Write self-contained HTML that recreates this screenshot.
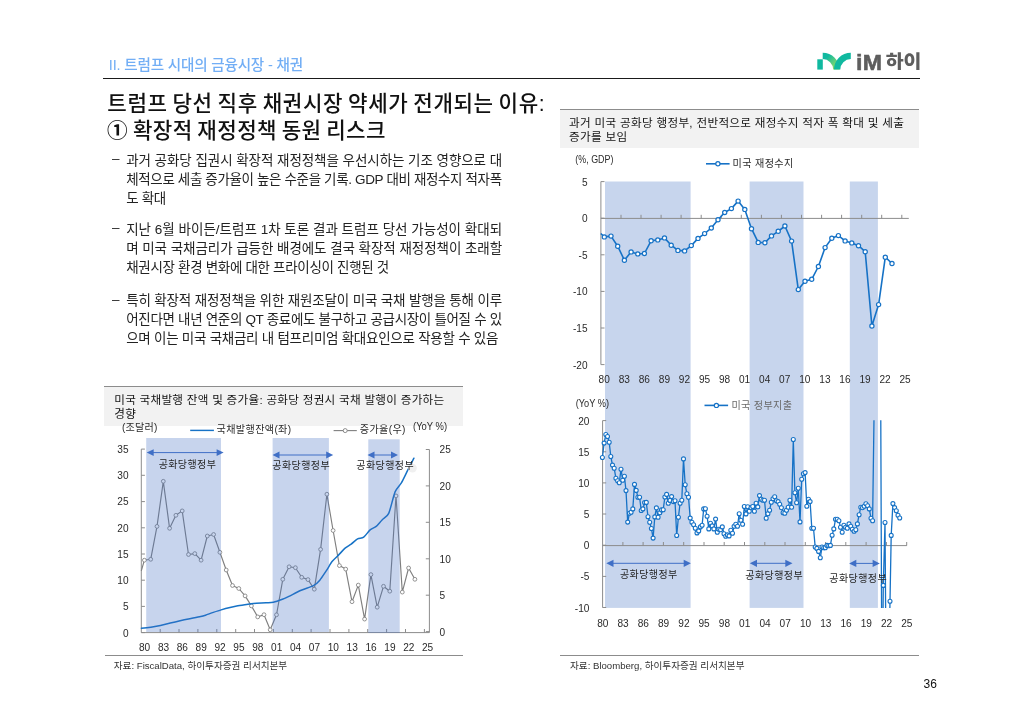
<!DOCTYPE html>
<html lang="ko">
<head>
<meta charset="utf-8">
<title>트럼프 당선 직후 채권시장 약세가 전개되는 이유</title>
<style>
html,body{margin:0;padding:0;background:#fff;}
body{width:1024px;height:723px;position:relative;overflow:hidden;font-family:"Liberation Sans","Noto Sans CJK KR",sans-serif;color:#1a1a1a;}
.abs{position:absolute;white-space:nowrap;}
.crumb{left:108.8px;top:55.2px;font-size:14.6px;line-height:20px;color:#72aef5;font-weight:500;letter-spacing:-0.206px;}
.rule{left:103.4px;top:78px;width:817px;height:1.4px;background:#1a1a1a;}
.title{left:107.3px;font-size:21.2px;word-spacing:-1.6px;line-height:26.4px;font-weight:500;color:#111;}
.t1{top:91.3px;letter-spacing:0.613px;}
.t2{top:117.5px;letter-spacing:0.416px;}
.t2 .c1{position:absolute;left:-0.2px;top:0.2px;font-size:20.6px;letter-spacing:0;font-weight:700;}
.t2 .rest{position:absolute;left:25.6px;top:0;}
.para{position:absolute;left:126.2px;width:375.2px;font-size:13.5px;line-height:19.1px;color:#222;}
.para .dash{position:absolute;left:-14.2px;top:-1.5px;}
.ln{white-space:nowrap;}
.hdr{background:#f2f2f2;border-top:1px solid #8c8c8c;font-size:11.6px;line-height:14.2px;color:#141414;box-sizing:border-box;white-space:nowrap;}
.h1{left:104.4px;top:386px;width:358.8px;height:40px;padding:5.5px 0 0 9.8px;line-height:14.8px;}
.h2{left:560.4px;top:108.6px;width:358.4px;height:39.8px;padding:6.2px 0 0 8.6px;line-height:13.8px;}
.foot{height:1px;background:#8c8c8c;}
.src{font-size:9.6px;line-height:14px;color:#333;}
.pg{left:923.6px;top:676.6px;font-size:12px;line-height:14px;color:#111;}
</style>
</head>
<body>
<div class="abs crumb">II. 트럼프 시대의 금융시장 - 채권</div>
<div class="abs rule"></div>
<div class="abs title t1">트럼프 당선 직후 채권시장 약세가 전개되는 이유:</div>
<div class="abs title t2"><span class="c1">①</span><span class="rest">확장적 재정정책 동원 리스크</span></div>
<div class="para" style="top:150.7px"><span class="dash">–</span>
<div class="ln" style="letter-spacing:-0.053px">과거 공화당 집권시 확장적 재정정책을 우선시하는 기조 영향으로 대</div>
<div class="ln" style="letter-spacing:-0.356px">체적으로 세출 증가율이 높은 수준을 기록. GDP 대비 재정수지 적자폭</div>
<div class="ln" style="letter-spacing:-0.339px">도 확대</div>
</div>
<div class="para" style="top:219.9px"><span class="dash">–</span>
<div class="ln" style="letter-spacing:0.012px">지난 6월 바이든/트럼프 1차 토론 결과 트럼프 당선 가능성이 확대되</div>
<div class="ln" style="letter-spacing:-0.053px">며 미국 국채금리가 급등한 배경에도 결국 확장적 재정정책이 초래할</div>
<div class="ln" style="letter-spacing:-0.316px">채권시장 환경 변화에 대한 프라이싱이 진행된 것</div>
</div>
<div class="para" style="top:291.0px"><span class="dash">–</span>
<div class="ln" style="letter-spacing:-0.156px">특히 확장적 재정정책을 위한 재원조달이 미국 국채 발행을 통해 이루</div>
<div class="ln" style="letter-spacing:-0.316px">어진다면 내년 연준의 QT 종료에도 불구하고 공급시장이 틀어질 수 있</div>
<div class="ln" style="letter-spacing:-0.259px">으며 이는 미국 국채금리 내 텀프리미엄 확대요인으로 작용할 수 있음</div>
</div>
<div class="abs hdr h1" style="letter-spacing:0.272px">미국 국채발행 잔액 및 증가율: 공화당 정권시 국채 발행이 증가하는<br>경향</div>
<div class="abs hdr h2" style="letter-spacing:0.312px">과거 미국 공화당 행정부, 전반적으로 재정수지 적자 폭 확대 및 세출<br>증가를 보임</div>
<svg width="1024" height="723" viewBox="0 0 1024 723" style="position:absolute;left:0;top:0" font-family="'Liberation Sans', 'Noto Sans CJK KR', sans-serif" font-size="10.1" fill="#2b2b2b">
<defs><clipPath id="cp3"><rect x="602" y="420.3" width="310" height="187.6"/></clipPath><linearGradient id="lg" x1="0" y1="0" x2="1" y2="1"><stop offset="0.25" stop-color="#10b9a0"/><stop offset="0.85" stop-color="#93dd62"/></linearGradient></defs>
<g id="chart1">
<g stroke="#8c8c8c" stroke-width="1" fill="none">
<path d="M141.3 449.1V632.6H429.4V449.5"/>
<path d="M141.3 632.6h3.6"/>
<path d="M141.3 606.4h3.6"/>
<path d="M141.3 580.2h3.6"/>
<path d="M141.3 554.0h3.6"/>
<path d="M141.3 527.8h3.6"/>
<path d="M141.3 501.6h3.6"/>
<path d="M141.3 475.3h3.6"/>
<path d="M141.3 449.1h3.6"/>
<path d="M429.4 631.6h-3.6"/>
<path d="M429.4 595.2h-3.6"/>
<path d="M429.4 558.8h-3.6"/>
<path d="M429.4 522.3h-3.6"/>
<path d="M429.4 485.9h-3.6"/>
<path d="M429.4 449.5h-3.6"/>
<path d="M160.2 632.6v-3.6"/>
<path d="M179.0 632.6v-3.6"/>
<path d="M197.9 632.6v-3.6"/>
<path d="M216.8 632.6v-3.6"/>
<path d="M235.7 632.6v-3.6"/>
<path d="M254.5 632.6v-3.6"/>
<path d="M273.4 632.6v-3.6"/>
<path d="M292.3 632.6v-3.6"/>
<path d="M311.1 632.6v-3.6"/>
<path d="M330.0 632.6v-3.6"/>
<path d="M348.9 632.6v-3.6"/>
<path d="M367.7 632.6v-3.6"/>
<path d="M386.6 632.6v-3.6"/>
<path d="M405.5 632.6v-3.6"/>
<path d="M424.4 632.6v-3.6"/>
</g>
<polyline points="141.3,570.8 144.4,560.2 150.7,559.3 157.0,526.4 163.3,481.3 169.6,528.3 175.9,515.3 182.2,510.9 188.5,554.5 194.8,553.6 201.1,560.2 207.3,536.0 213.6,534.5 219.9,552.3 226.2,570.0 232.5,585.5 238.8,588.5 245.1,595.9 251.4,605.9 257.7,616.9 264.0,614.7 270.2,629.8 276.5,614.8 282.8,579.3 289.1,566.8 295.4,567.7 301.7,577.3 308.0,579.6 314.3,589.2 320.6,549.4 326.9,494.2 333.1,530.5 339.4,565.6 345.7,569.1 352.0,601.7 358.3,585.1 364.6,619.1 370.9,574.6 377.2,607.2 383.5,586.3 389.8,591.2 396.0,495.9 402.3,592.1 408.6,568.0 414.9,579.3" fill="none" stroke="#7f7f7f" stroke-width="1.15" stroke-linejoin="round"/>
<g fill="#fff" stroke="#7f7f7f" stroke-width="0.85"><circle cx="144.4" cy="560.2" r="1.9"/><circle cx="150.7" cy="559.3" r="1.9"/><circle cx="157.0" cy="526.4" r="1.9"/><circle cx="163.3" cy="481.3" r="1.9"/><circle cx="169.6" cy="528.3" r="1.9"/><circle cx="175.9" cy="515.3" r="1.9"/><circle cx="182.2" cy="510.9" r="1.9"/><circle cx="188.5" cy="554.5" r="1.9"/><circle cx="194.8" cy="553.6" r="1.9"/><circle cx="201.1" cy="560.2" r="1.9"/><circle cx="207.3" cy="536.0" r="1.9"/><circle cx="213.6" cy="534.5" r="1.9"/><circle cx="219.9" cy="552.3" r="1.9"/><circle cx="226.2" cy="570.0" r="1.9"/><circle cx="232.5" cy="585.5" r="1.9"/><circle cx="238.8" cy="588.5" r="1.9"/><circle cx="245.1" cy="595.9" r="1.9"/><circle cx="251.4" cy="605.9" r="1.9"/><circle cx="257.7" cy="616.9" r="1.9"/><circle cx="264.0" cy="614.7" r="1.9"/><circle cx="270.2" cy="629.8" r="1.9"/><circle cx="276.5" cy="614.8" r="1.9"/><circle cx="282.8" cy="579.3" r="1.9"/><circle cx="289.1" cy="566.8" r="1.9"/><circle cx="295.4" cy="567.7" r="1.9"/><circle cx="301.7" cy="577.3" r="1.9"/><circle cx="308.0" cy="579.6" r="1.9"/><circle cx="314.3" cy="589.2" r="1.9"/><circle cx="320.6" cy="549.4" r="1.9"/><circle cx="326.9" cy="494.2" r="1.9"/><circle cx="333.1" cy="530.5" r="1.9"/><circle cx="339.4" cy="565.6" r="1.9"/><circle cx="345.7" cy="569.1" r="1.9"/><circle cx="352.0" cy="601.7" r="1.9"/><circle cx="358.3" cy="585.1" r="1.9"/><circle cx="364.6" cy="619.1" r="1.9"/><circle cx="370.9" cy="574.6" r="1.9"/><circle cx="377.2" cy="607.2" r="1.9"/><circle cx="383.5" cy="586.3" r="1.9"/><circle cx="389.8" cy="591.2" r="1.9"/><circle cx="396.0" cy="495.9" r="1.9"/><circle cx="402.3" cy="592.1" r="1.9"/><circle cx="408.6" cy="568.0" r="1.9"/><circle cx="414.9" cy="579.3" r="1.9"/></g>
<path d="M141.4 628.3C142.7 628.2 148.3 627.7 150.8 627.3C153.3 626.9 157.9 626.1 160.5 625.5C163.1 624.9 167.7 623.7 170.3 623.1C172.9 622.5 177.5 621.4 180.1 620.8C182.7 620.2 187.2 619.3 189.8 618.8C192.4 618.3 197.5 617.3 199.6 616.8C201.7 616.3 203.7 615.8 205.5 615.2C207.3 614.6 211.2 613.1 213.3 612.4C215.4 611.7 219.0 610.5 221.1 609.9C223.2 609.3 226.8 608.3 228.9 607.8C231.0 607.3 234.4 606.5 236.7 606.0C239.0 605.5 243.9 604.8 246.5 604.4C249.1 604.0 253.7 603.5 256.3 603.3C258.9 603.1 263.7 602.8 266.0 602.7C268.3 602.6 271.2 602.8 273.4 602.3C275.6 601.8 280.3 600.1 282.4 599.3C284.5 598.5 286.3 597.6 288.8 596.4C291.3 595.2 297.9 591.7 301.2 590.3C304.5 588.9 310.9 587.0 313.4 585.7C315.9 584.4 318.1 582.2 319.8 580.2C321.5 578.2 324.5 573.4 326.2 570.9C327.9 568.4 330.6 563.4 332.3 561.3C334.0 559.2 337.0 556.6 338.7 554.9C340.4 553.2 343.4 549.6 345.1 548.2C346.8 546.8 349.5 545.3 351.2 544.1C352.9 542.9 355.9 539.8 357.6 538.9C359.3 538.0 362.0 538.4 363.7 537.2C365.4 536.0 368.4 531.3 370.1 529.9C371.8 528.5 374.6 527.8 376.2 526.4C377.8 525.0 380.6 521.4 382.3 519.7C384.0 518.0 387.0 517.1 388.7 513.4C390.4 509.7 393.4 495.9 395.1 491.9C396.8 487.9 399.5 486.0 401.2 483.2C402.9 480.4 405.8 474.0 407.5 470.7C409.2 467.4 413.0 459.9 413.9 458.2" fill="none" stroke="#1672c6" stroke-width="1.5" stroke-linejoin="round" stroke-linecap="round"/>
<rect x="146.2" y="438.0" width="74.8" height="194.0" fill="#4472c4" fill-opacity="0.3"/>
<rect x="272.6" y="438.0" width="56.3" height="194.0" fill="#4472c4" fill-opacity="0.3"/>
<rect x="368.3" y="439.3" width="31.4" height="193.7" fill="#4472c4" fill-opacity="0.3"/>
<line x1="152.7" y1="452.6" x2="217.6" y2="452.6" stroke="#3f6fc6" stroke-width="1"/><polygon points="146.7,452.6 153.7,449.2 153.7,456.0" fill="#3f6fc6"/><polygon points="223.6,452.6 216.6,449.2 216.6,456.0" fill="#3f6fc6"/>
<line x1="278.5" y1="455.0" x2="327.2" y2="455.0" stroke="#3f6fc6" stroke-width="1"/><polygon points="272.5,455.0 279.5,451.6 279.5,458.4" fill="#3f6fc6"/><polygon points="333.2,455.0 326.2,451.6 326.2,458.4" fill="#3f6fc6"/>
<line x1="373.5" y1="455.0" x2="392.0" y2="455.0" stroke="#3f6fc6" stroke-width="1"/><polygon points="367.5,455.0 374.5,451.6 374.5,458.4" fill="#3f6fc6"/><polygon points="398.0,455.0 391.0,451.6 391.0,458.4" fill="#3f6fc6"/>
<circle cx="412.4" cy="468.1" r="4.4" fill="#f0f0f0"/>
<g font-size="10" text-anchor="middle" fill="#262626" letter-spacing="0.42">
<text x="187.5" y="467.8">공화당행정부</text>
<text x="301.2" y="468.6">공화당행정부</text>
<text x="385.2" y="468.6">공화당행정부</text>
</g>
<g text-anchor="end">
<text x="128.6" y="636.5">0</text>
<text x="128.6" y="610.3">5</text>
<text x="128.6" y="584.1">10</text>
<text x="128.6" y="557.9">15</text>
<text x="128.6" y="531.7">20</text>
<text x="128.6" y="505.4">25</text>
<text x="128.6" y="479.2">30</text>
<text x="128.6" y="453.0">35</text>
</g>
<g text-anchor="start">
<text x="439.6" y="635.5">0</text>
<text x="439.6" y="599.1">5</text>
<text x="439.6" y="562.7">10</text>
<text x="439.6" y="526.2">15</text>
<text x="439.6" y="489.8">20</text>
<text x="439.6" y="453.4">25</text>
</g>
<g text-anchor="middle">
<text x="144.6" y="650.6">80</text>
<text x="163.5" y="650.6">83</text>
<text x="182.3" y="650.6">86</text>
<text x="201.2" y="650.6">89</text>
<text x="220.1" y="650.6">92</text>
<text x="238.9" y="650.6">95</text>
<text x="257.8" y="650.6">98</text>
<text x="276.7" y="650.6">01</text>
<text x="295.6" y="650.6">04</text>
<text x="314.4" y="650.6">07</text>
<text x="333.3" y="650.6">10</text>
<text x="352.2" y="650.6">13</text>
<text x="371.0" y="650.6">16</text>
<text x="389.9" y="650.6">19</text>
<text x="408.8" y="650.6">22</text>
<text x="427.6" y="650.6">25</text>
</g>
<text x="122" y="430.8" letter-spacing="0.2">(조달러)</text>
<line x1="190.2" y1="430.4" x2="213.9" y2="430.4" stroke="#1672c6" stroke-width="1.45"/>
<text x="216.6" y="433.1" letter-spacing="0.35">국채발행잔액(좌)</text>
<line x1="333.6" y1="430.6" x2="356.8" y2="430.6" stroke="#7f7f7f" stroke-width="1.1"/>
<circle cx="345.2" cy="430.6" r="2" fill="#fff" stroke="#7f7f7f" stroke-width="0.9"/>
<text x="359.8" y="433.1" letter-spacing="0.35">증가율(우)</text>
<text x="413" y="430.2" font-size="10.3" textLength="34.1" lengthAdjust="spacingAndGlyphs">(YoY %)</text>
</g>
<g id="chart23">
<rect x="605.0" y="181.5" width="85.6" height="426.4" fill="#c7d5ed"/>
<rect x="749.6" y="181.5" width="53.9" height="426.4" fill="#c7d5ed"/>
<rect x="849.8" y="181.5" width="28.1" height="426.4" fill="#c7d5ed"/>
<g stroke="#8c8c8c" stroke-width="1" fill="none">
<path d="M600.9 181.6V364.6"/>
<path d="M600.9 218.4H908.8"/>
<path d="M600.9 181.6h3.6"/>
<path d="M600.9 218.2h3.6"/>
<path d="M600.9 254.8h3.6"/>
<path d="M600.9 291.4h3.6"/>
<path d="M600.9 328.0h3.6"/>
<path d="M600.9 364.6h3.6"/>
<path d="M621.0 218.4v-3.6"/>
<path d="M641.0 218.4v-3.6"/>
<path d="M661.1 218.4v-3.6"/>
<path d="M681.1 218.4v-3.6"/>
<path d="M701.2 218.4v-3.6"/>
<path d="M721.3 218.4v-3.6"/>
<path d="M741.3 218.4v-3.6"/>
<path d="M761.4 218.4v-3.6"/>
<path d="M781.4 218.4v-3.6"/>
<path d="M801.5 218.4v-3.6"/>
<path d="M821.6 218.4v-3.6"/>
<path d="M841.6 218.4v-3.6"/>
<path d="M861.7 218.4v-3.6"/>
<path d="M881.7 218.4v-3.6"/>
<path d="M901.8 218.4v-3.6"/>
<path d="M602.6 420.6V607.6"/>
<path d="M602.6 545.6H906.9"/>
<path d="M602.6 420.6h3.6"/>
<path d="M602.6 451.8h3.6"/>
<path d="M602.6 482.9h3.6"/>
<path d="M602.6 514.0h3.6"/>
<path d="M602.6 545.2h3.6"/>
<path d="M602.6 576.4h3.6"/>
<path d="M602.6 607.5h3.6"/>
<path d="M622.9 545.6v-3.6"/>
<path d="M643.1 545.6v-3.6"/>
<path d="M663.4 545.6v-3.6"/>
<path d="M683.7 545.6v-3.6"/>
<path d="M704.0 545.6v-3.6"/>
<path d="M724.2 545.6v-3.6"/>
<path d="M744.5 545.6v-3.6"/>
<path d="M764.8 545.6v-3.6"/>
<path d="M785.0 545.6v-3.6"/>
<path d="M805.3 545.6v-3.6"/>
<path d="M825.6 545.6v-3.6"/>
<path d="M845.8 545.6v-3.6"/>
<path d="M866.1 545.6v-3.6"/>
<path d="M886.4 545.6v-3.6"/>
<path d="M906.7 545.6v-3.6"/>
</g>
<polyline points="600.8,233.5 604.3,236.9 611.0,236.1 617.7,246.2 624.4,260.2 631.1,251.9 637.8,253.9 644.4,253.5 651.1,240.8 657.8,239.9 664.5,237.9 671.2,245.2 677.9,250.4 684.6,250.9 691.3,245.6 698.0,238.4 704.6,233.6 711.3,228.0 718.0,219.8 724.7,212.5 731.4,208.6 738.1,201.1 744.8,209.4 751.5,228.7 758.2,242.4 764.9,242.8 771.5,235.9 778.2,231.3 784.9,226.0 791.6,241.1 798.3,289.6 805.0,281.3 811.7,279.3 818.4,266.5 825.1,247.6 831.8,238.3 838.4,235.6 845.1,240.9 851.8,242.9 858.5,245.7 865.2,251.7 871.9,326.0 878.6,304.6 885.3,257.2 892.0,263.5" fill="none" stroke="#1672c6" stroke-width="1.6" stroke-linejoin="round"/>
<g fill="#fff" stroke="#1672c6" stroke-width="1.2"><circle cx="604.3" cy="236.9" r="2.1"/><circle cx="611.0" cy="236.1" r="2.1"/><circle cx="617.7" cy="246.2" r="2.1"/><circle cx="624.4" cy="260.2" r="2.1"/><circle cx="631.1" cy="251.9" r="2.1"/><circle cx="637.8" cy="253.9" r="2.1"/><circle cx="644.4" cy="253.5" r="2.1"/><circle cx="651.1" cy="240.8" r="2.1"/><circle cx="657.8" cy="239.9" r="2.1"/><circle cx="664.5" cy="237.9" r="2.1"/><circle cx="671.2" cy="245.2" r="2.1"/><circle cx="677.9" cy="250.4" r="2.1"/><circle cx="684.6" cy="250.9" r="2.1"/><circle cx="691.3" cy="245.6" r="2.1"/><circle cx="698.0" cy="238.4" r="2.1"/><circle cx="704.6" cy="233.6" r="2.1"/><circle cx="711.3" cy="228.0" r="2.1"/><circle cx="718.0" cy="219.8" r="2.1"/><circle cx="724.7" cy="212.5" r="2.1"/><circle cx="731.4" cy="208.6" r="2.1"/><circle cx="738.1" cy="201.1" r="2.1"/><circle cx="744.8" cy="209.4" r="2.1"/><circle cx="751.5" cy="228.7" r="2.1"/><circle cx="758.2" cy="242.4" r="2.1"/><circle cx="764.9" cy="242.8" r="2.1"/><circle cx="771.5" cy="235.9" r="2.1"/><circle cx="778.2" cy="231.3" r="2.1"/><circle cx="784.9" cy="226.0" r="2.1"/><circle cx="791.6" cy="241.1" r="2.1"/><circle cx="798.3" cy="289.6" r="2.1"/><circle cx="805.0" cy="281.3" r="2.1"/><circle cx="811.7" cy="279.3" r="2.1"/><circle cx="818.4" cy="266.5" r="2.1"/><circle cx="825.1" cy="247.6" r="2.1"/><circle cx="831.8" cy="238.3" r="2.1"/><circle cx="838.4" cy="235.6" r="2.1"/><circle cx="845.1" cy="240.9" r="2.1"/><circle cx="851.8" cy="242.9" r="2.1"/><circle cx="858.5" cy="245.7" r="2.1"/><circle cx="865.2" cy="251.7" r="2.1"/><circle cx="871.9" cy="326.0" r="2.1"/><circle cx="878.6" cy="304.6" r="2.1"/><circle cx="885.3" cy="257.2" r="2.1"/><circle cx="892.0" cy="263.5" r="2.1"/></g>
<g clip-path="url(#cp3)">
<polyline points="602.4,457.5 604.1,443.1 605.8,434.5 607.5,436.5 609.2,442.3 610.8,456.5 612.5,465.1 614.2,468.3 615.9,478.2 617.6,480.8 619.3,482.8 621.0,469.2 622.7,480.2 624.4,476.2 626.0,490.6 627.7,522.1 629.4,513.3 631.1,512.3 632.8,508.9 634.5,484.4 636.2,490.4 637.9,497.2 639.6,497.2 641.2,510.5 642.9,508.9 644.6,502.6 646.3,502.4 648.0,516.7 649.7,522.3 651.4,528.5 653.1,538.1 654.8,516.9 656.4,507.9 658.1,517.3 659.8,512.7 661.5,509.9 663.2,509.7 664.9,497.0 666.6,494.4 668.3,503.2 670.0,500.4 671.6,496.6 673.3,501.6 675.0,500.8 676.7,535.5 678.4,517.3 680.1,503.2 681.8,500.2 683.5,458.9 685.2,484.8 686.9,493.8 688.5,497.2 690.2,518.1 691.9,522.3 693.6,524.7 695.3,528.3 697.0,532.9 698.7,530.9 700.4,526.9 702.1,525.3 703.7,508.9 705.4,508.7 707.1,516.3 708.8,528.9 710.5,523.3 712.2,525.9 713.9,528.9 715.6,519.1 717.3,532.3 718.9,529.3 720.6,529.7 722.3,526.9 724.0,533.7 725.7,536.3 727.4,534.9 729.1,535.9 730.8,530.3 732.5,533.3 734.1,526.3 735.8,524.3 737.5,526.3 739.2,513.7 740.9,520.3 742.6,524.3 744.3,506.5 746.0,513.9 747.7,506.7 749.3,511.3 751.0,507.7 752.7,506.5 754.4,511.3 756.1,503.2 757.8,506.9 759.5,495.6 761.2,499.2 762.9,500.2 764.5,500.2 766.2,518.3 767.9,513.7 769.6,510.3 771.3,502.2 773.0,498.8 774.7,496.8 776.4,500.8 778.1,501.6 779.7,504.2 781.4,507.7 783.1,512.7 784.8,513.3 786.5,510.3 788.2,507.3 789.9,500.2 791.6,507.3 793.3,439.5 794.9,492.8 796.6,502.8 798.3,488.2 800.0,521.9 801.7,479.2 803.4,473.8 805.1,472.6 806.8,506.3 808.5,499.2 810.1,501.6 811.8,528.3 813.5,528.3 815.2,547.0 816.9,548.4 818.6,551.4 820.3,557.8 822.0,547.0 823.7,547.8 825.3,547.8 827.0,545.4 828.7,545.8 830.4,545.4 832.1,535.3 833.8,528.9 835.5,519.3 837.2,519.3 838.9,520.7 840.5,527.3 842.2,532.3 843.9,525.3 845.6,527.3 847.3,528.3 849.0,523.9 850.7,526.3 852.4,529.3 854.1,531.3 855.8,529.7 857.4,523.9 859.1,514.7 860.8,507.3 862.5,507.7 864.2,506.3 865.9,503.8 867.6,505.7 869.3,508.9 871.0,518.3 872.6,520.7 875.2,330.0 876.9,200.0 878.6,250.0 880.3,300.0 882.0,720.0 883.3,585.4 885.0,522.5 886.7,760.0 888.3,700.0 890.0,601.2 891.2,535.4 892.9,503.6 894.6,507.6 896.3,510.8 898.0,515.3 899.7,518.0" fill="none" stroke="#1672c6" stroke-width="1.3" stroke-linejoin="round"/>
</g>
<g fill="#fff" stroke="#1672c6" stroke-width="1.1"><circle cx="602.4" cy="457.5" r="2.0"/><circle cx="604.1" cy="443.1" r="2.0"/><circle cx="605.8" cy="434.5" r="2.0"/><circle cx="607.5" cy="436.5" r="2.0"/><circle cx="609.2" cy="442.3" r="2.0"/><circle cx="610.8" cy="456.5" r="2.0"/><circle cx="612.5" cy="465.1" r="2.0"/><circle cx="614.2" cy="468.3" r="2.0"/><circle cx="615.9" cy="478.2" r="2.0"/><circle cx="617.6" cy="480.8" r="2.0"/><circle cx="619.3" cy="482.8" r="2.0"/><circle cx="621.0" cy="469.2" r="2.0"/><circle cx="622.7" cy="480.2" r="2.0"/><circle cx="624.4" cy="476.2" r="2.0"/><circle cx="626.0" cy="490.6" r="2.0"/><circle cx="627.7" cy="522.1" r="2.0"/><circle cx="629.4" cy="513.3" r="2.0"/><circle cx="631.1" cy="512.3" r="2.0"/><circle cx="632.8" cy="508.9" r="2.0"/><circle cx="634.5" cy="484.4" r="2.0"/><circle cx="636.2" cy="490.4" r="2.0"/><circle cx="637.9" cy="497.2" r="2.0"/><circle cx="639.6" cy="497.2" r="2.0"/><circle cx="641.2" cy="510.5" r="2.0"/><circle cx="642.9" cy="508.9" r="2.0"/><circle cx="644.6" cy="502.6" r="2.0"/><circle cx="646.3" cy="502.4" r="2.0"/><circle cx="648.0" cy="516.7" r="2.0"/><circle cx="649.7" cy="522.3" r="2.0"/><circle cx="651.4" cy="528.5" r="2.0"/><circle cx="653.1" cy="538.1" r="2.0"/><circle cx="654.8" cy="516.9" r="2.0"/><circle cx="656.4" cy="507.9" r="2.0"/><circle cx="658.1" cy="517.3" r="2.0"/><circle cx="659.8" cy="512.7" r="2.0"/><circle cx="661.5" cy="509.9" r="2.0"/><circle cx="663.2" cy="509.7" r="2.0"/><circle cx="664.9" cy="497.0" r="2.0"/><circle cx="666.6" cy="494.4" r="2.0"/><circle cx="668.3" cy="503.2" r="2.0"/><circle cx="670.0" cy="500.4" r="2.0"/><circle cx="671.6" cy="496.6" r="2.0"/><circle cx="673.3" cy="501.6" r="2.0"/><circle cx="675.0" cy="500.8" r="2.0"/><circle cx="676.7" cy="535.5" r="2.0"/><circle cx="678.4" cy="517.3" r="2.0"/><circle cx="680.1" cy="503.2" r="2.0"/><circle cx="681.8" cy="500.2" r="2.0"/><circle cx="683.5" cy="458.9" r="2.0"/><circle cx="685.2" cy="484.8" r="2.0"/><circle cx="686.9" cy="493.8" r="2.0"/><circle cx="688.5" cy="497.2" r="2.0"/><circle cx="690.2" cy="518.1" r="2.0"/><circle cx="691.9" cy="522.3" r="2.0"/><circle cx="693.6" cy="524.7" r="2.0"/><circle cx="695.3" cy="528.3" r="2.0"/><circle cx="697.0" cy="532.9" r="2.0"/><circle cx="698.7" cy="530.9" r="2.0"/><circle cx="700.4" cy="526.9" r="2.0"/><circle cx="702.1" cy="525.3" r="2.0"/><circle cx="703.7" cy="508.9" r="2.0"/><circle cx="705.4" cy="508.7" r="2.0"/><circle cx="707.1" cy="516.3" r="2.0"/><circle cx="708.8" cy="528.9" r="2.0"/><circle cx="710.5" cy="523.3" r="2.0"/><circle cx="712.2" cy="525.9" r="2.0"/><circle cx="713.9" cy="528.9" r="2.0"/><circle cx="715.6" cy="519.1" r="2.0"/><circle cx="717.3" cy="532.3" r="2.0"/><circle cx="718.9" cy="529.3" r="2.0"/><circle cx="720.6" cy="529.7" r="2.0"/><circle cx="722.3" cy="526.9" r="2.0"/><circle cx="724.0" cy="533.7" r="2.0"/><circle cx="725.7" cy="536.3" r="2.0"/><circle cx="727.4" cy="534.9" r="2.0"/><circle cx="729.1" cy="535.9" r="2.0"/><circle cx="730.8" cy="530.3" r="2.0"/><circle cx="732.5" cy="533.3" r="2.0"/><circle cx="734.1" cy="526.3" r="2.0"/><circle cx="735.8" cy="524.3" r="2.0"/><circle cx="737.5" cy="526.3" r="2.0"/><circle cx="739.2" cy="513.7" r="2.0"/><circle cx="740.9" cy="520.3" r="2.0"/><circle cx="742.6" cy="524.3" r="2.0"/><circle cx="744.3" cy="506.5" r="2.0"/><circle cx="746.0" cy="513.9" r="2.0"/><circle cx="747.7" cy="506.7" r="2.0"/><circle cx="749.3" cy="511.3" r="2.0"/><circle cx="751.0" cy="507.7" r="2.0"/><circle cx="752.7" cy="506.5" r="2.0"/><circle cx="754.4" cy="511.3" r="2.0"/><circle cx="756.1" cy="503.2" r="2.0"/><circle cx="757.8" cy="506.9" r="2.0"/><circle cx="759.5" cy="495.6" r="2.0"/><circle cx="761.2" cy="499.2" r="2.0"/><circle cx="762.9" cy="500.2" r="2.0"/><circle cx="764.5" cy="500.2" r="2.0"/><circle cx="766.2" cy="518.3" r="2.0"/><circle cx="767.9" cy="513.7" r="2.0"/><circle cx="769.6" cy="510.3" r="2.0"/><circle cx="771.3" cy="502.2" r="2.0"/><circle cx="773.0" cy="498.8" r="2.0"/><circle cx="774.7" cy="496.8" r="2.0"/><circle cx="776.4" cy="500.8" r="2.0"/><circle cx="778.1" cy="501.6" r="2.0"/><circle cx="779.7" cy="504.2" r="2.0"/><circle cx="781.4" cy="507.7" r="2.0"/><circle cx="783.1" cy="512.7" r="2.0"/><circle cx="784.8" cy="513.3" r="2.0"/><circle cx="786.5" cy="510.3" r="2.0"/><circle cx="788.2" cy="507.3" r="2.0"/><circle cx="789.9" cy="500.2" r="2.0"/><circle cx="791.6" cy="507.3" r="2.0"/><circle cx="793.3" cy="439.5" r="2.0"/><circle cx="794.9" cy="492.8" r="2.0"/><circle cx="796.6" cy="502.8" r="2.0"/><circle cx="798.3" cy="488.2" r="2.0"/><circle cx="800.0" cy="521.9" r="2.0"/><circle cx="801.7" cy="479.2" r="2.0"/><circle cx="803.4" cy="473.8" r="2.0"/><circle cx="805.1" cy="472.6" r="2.0"/><circle cx="806.8" cy="506.3" r="2.0"/><circle cx="808.5" cy="499.2" r="2.0"/><circle cx="810.1" cy="501.6" r="2.0"/><circle cx="811.8" cy="528.3" r="2.0"/><circle cx="813.5" cy="528.3" r="2.0"/><circle cx="815.2" cy="547.0" r="2.0"/><circle cx="816.9" cy="548.4" r="2.0"/><circle cx="818.6" cy="551.4" r="2.0"/><circle cx="820.3" cy="557.8" r="2.0"/><circle cx="822.0" cy="547.0" r="2.0"/><circle cx="823.7" cy="547.8" r="2.0"/><circle cx="825.3" cy="547.8" r="2.0"/><circle cx="827.0" cy="545.4" r="2.0"/><circle cx="828.7" cy="545.8" r="2.0"/><circle cx="830.4" cy="545.4" r="2.0"/><circle cx="832.1" cy="535.3" r="2.0"/><circle cx="833.8" cy="528.9" r="2.0"/><circle cx="835.5" cy="519.3" r="2.0"/><circle cx="837.2" cy="519.3" r="2.0"/><circle cx="838.9" cy="520.7" r="2.0"/><circle cx="840.5" cy="527.3" r="2.0"/><circle cx="842.2" cy="532.3" r="2.0"/><circle cx="843.9" cy="525.3" r="2.0"/><circle cx="845.6" cy="527.3" r="2.0"/><circle cx="847.3" cy="528.3" r="2.0"/><circle cx="849.0" cy="523.9" r="2.0"/><circle cx="850.7" cy="526.3" r="2.0"/><circle cx="852.4" cy="529.3" r="2.0"/><circle cx="854.1" cy="531.3" r="2.0"/><circle cx="855.8" cy="529.7" r="2.0"/><circle cx="857.4" cy="523.9" r="2.0"/><circle cx="859.1" cy="514.7" r="2.0"/><circle cx="860.8" cy="507.3" r="2.0"/><circle cx="862.5" cy="507.7" r="2.0"/><circle cx="864.2" cy="506.3" r="2.0"/><circle cx="865.9" cy="503.8" r="2.0"/><circle cx="867.6" cy="505.7" r="2.0"/><circle cx="869.3" cy="508.9" r="2.0"/><circle cx="871.0" cy="518.3" r="2.0"/><circle cx="872.6" cy="520.7" r="2.0"/><circle cx="883.3" cy="585.4" r="2.0"/><circle cx="885.0" cy="522.5" r="2.0"/><circle cx="890.0" cy="601.2" r="2.0"/><circle cx="891.2" cy="535.4" r="2.0"/><circle cx="892.9" cy="503.6" r="2.0"/><circle cx="894.6" cy="507.6" r="2.0"/><circle cx="896.3" cy="510.8" r="2.0"/><circle cx="898.0" cy="515.3" r="2.0"/><circle cx="899.7" cy="518.0" r="2.0"/></g>
<line x1="612.5" y1="563.3" x2="684.7" y2="563.3" stroke="#3f6fc6" stroke-width="1"/><polygon points="606.3,563.3 613.5,559.7 613.5,566.9" fill="#3f6fc6"/><polygon points="690.9,563.3 683.7,559.7 683.7,566.9" fill="#3f6fc6"/>
<line x1="756.0" y1="563.3" x2="786.3" y2="563.3" stroke="#3f6fc6" stroke-width="1"/><polygon points="749.8,563.3 757.0,559.7 757.0,566.9" fill="#3f6fc6"/><polygon points="792.5,563.3 785.3,559.7 785.3,566.9" fill="#3f6fc6"/>
<line x1="855.3" y1="563.4" x2="873.6" y2="563.4" stroke="#3f6fc6" stroke-width="1"/><polygon points="849.1,563.4 856.3,559.8 856.3,567.0" fill="#3f6fc6"/><polygon points="879.8,563.4 872.6,559.8 872.6,567.0" fill="#3f6fc6"/>
<g font-size="10" text-anchor="middle" fill="#262626" letter-spacing="0.42">
<text x="648.8" y="578.3">공화당행정부</text>
<text x="774.2" y="578.5">공화당행정부</text>
<text x="858.2" y="581.6">공화당행정부</text>
</g>
<g text-anchor="end">
<text x="587.6" y="185.6">5</text>
<text x="587.6" y="222.2">0</text>
<text x="587.6" y="258.8">-5</text>
<text x="587.6" y="295.4">-10</text>
<text x="587.6" y="332.0">-15</text>
<text x="587.6" y="368.6">-20</text>
<text x="589.4" y="424.6">20</text>
<text x="589.4" y="455.8">15</text>
<text x="589.4" y="486.9">10</text>
<text x="589.4" y="518.0">5</text>
<text x="589.4" y="549.2">0</text>
<text x="589.4" y="580.4">-5</text>
<text x="589.4" y="611.5">-10</text>
</g>
<g text-anchor="middle">
<text x="604.2" y="383.3">80</text>
<text x="602.8" y="626.8">80</text>
<text x="624.3" y="383.3">83</text>
<text x="623.1" y="626.8">83</text>
<text x="644.3" y="383.3">86</text>
<text x="643.3" y="626.8">86</text>
<text x="664.4" y="383.3">89</text>
<text x="663.6" y="626.8">89</text>
<text x="684.4" y="383.3">92</text>
<text x="683.9" y="626.8">92</text>
<text x="704.5" y="383.3">95</text>
<text x="704.1" y="626.8">95</text>
<text x="724.6" y="383.3">98</text>
<text x="724.4" y="626.8">98</text>
<text x="744.6" y="383.3">01</text>
<text x="744.7" y="626.8">01</text>
<text x="764.7" y="383.3">04</text>
<text x="765.0" y="626.8">04</text>
<text x="784.7" y="383.3">07</text>
<text x="785.2" y="626.8">07</text>
<text x="804.8" y="383.3">10</text>
<text x="805.5" y="626.8">10</text>
<text x="824.9" y="383.3">13</text>
<text x="825.8" y="626.8">13</text>
<text x="844.9" y="383.3">16</text>
<text x="846.0" y="626.8">16</text>
<text x="865.0" y="383.3">19</text>
<text x="866.3" y="626.8">19</text>
<text x="885.0" y="383.3">22</text>
<text x="886.6" y="626.8">22</text>
<text x="905.1" y="383.3">25</text>
<text x="906.8" y="626.8">25</text>
</g>
<text x="575.3" y="163.2" font-size="10.3" textLength="38.1" lengthAdjust="spacingAndGlyphs">(%, GDP)</text>
<line x1="706" y1="163.8" x2="729.6" y2="163.8" stroke="#1672c6" stroke-width="1.6"/>
<circle cx="717.9" cy="163.8" r="2.1" fill="#fff" stroke="#1672c6" stroke-width="1.2"/>
<text x="732.6" y="167.2" letter-spacing="0.35">미국 재정수지</text>
<text x="575.7" y="406.8" font-size="10.3" textLength="33.3" lengthAdjust="spacingAndGlyphs">(YoY %)</text>
<line x1="704.5" y1="405.4" x2="728.1" y2="405.4" stroke="#1672c6" stroke-width="1.6"/>
<circle cx="716.4" cy="405.4" r="2.1" fill="#fff" stroke="#1672c6" stroke-width="1.2"/>
<text x="731.4" y="408.8" letter-spacing="0.35" fill="#6a6a6a">미국 정부지출</text>
</g>
<g id="logo">
<rect x="817.3" y="59.3" width="5.5" height="10.3" fill="#10b9a0"/>
<path d="M822.7 52.7A16.9 16.9 0 0 1 839.6 69.6H833.2A10.5 10.5 0 0 0 822.7 59.1Z" fill="url(#lg)"/>
<path d="M850.8 52.7A16.9 16.9 0 0 0 833.9 69.6H840.3A10.5 10.5 0 0 1 850.8 59.1Z" fill="#10b9a0"/>
<text transform="translate(855.9,69.6) scale(1.08,1.04)" font-size="21.5" font-weight="bold" fill="#5e5e5e" stroke="#5e5e5e" stroke-width="0.5">i</text><text transform="translate(862.8,69.6) scale(1.075,1.03)" font-size="21.5" font-weight="bold" fill="#5e5e5e" stroke="#5e5e5e" stroke-width="0.55">M</text>
<text transform="translate(885.7,67.95) scale(1.106,1.03)" font-size="17.6" font-weight="900" fill="#5e5e5e">하이</text>
</g>
</svg>
<div class="abs foot" style="left:105px;top:654.6px;width:358.2px"></div>
<div class="abs src" style="left:113.8px;top:659.4px">자료: FiscalData, 하이투자증권 리서치본부</div>
<div class="abs foot" style="left:560.4px;top:654.6px;width:358.8px"></div>
<div class="abs src" style="left:570px;top:659.4px">자료: Bloomberg, 하이투자증권 리서치본부</div>
<div class="abs pg">36</div>
</body>
</html>
